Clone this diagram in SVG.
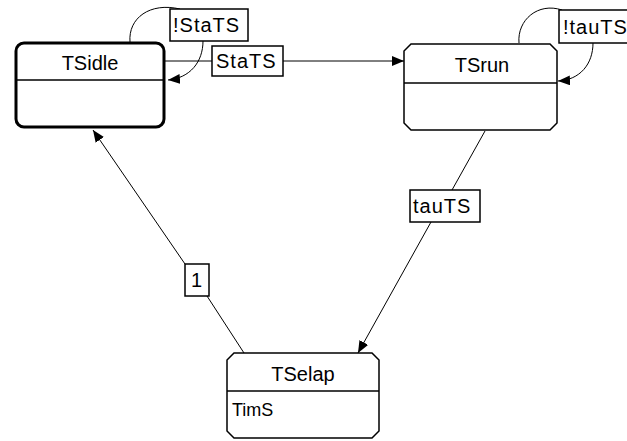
<svg xmlns="http://www.w3.org/2000/svg" width="627" height="441" viewBox="0 0 627 441">
<style>
  text { font-family: "Liberation Sans", Arial, sans-serif; fill: #000; }
  .title { font-size: 20px; text-anchor: middle; }
  .attr { font-size: 18px; }
  .lbl { font-size: 20px; letter-spacing: 1px; }
  .node { fill: #fff; stroke: #000; stroke-width: 1.5; }
  .div { stroke: #000; stroke-width: 1.5; }
  .edge { fill: none; stroke: #000; stroke-width: 1; }
  .lblbox { fill: #fff; stroke: #000; stroke-width: 1.5; }
</style>
<defs>
  <marker id="arr" markerUnits="userSpaceOnUse" markerWidth="13" markerHeight="11" refX="12" refY="5" orient="auto">
    <path d="M0,0 L12,5 L0,10 Z" fill="#000"/>
  </marker>
</defs>
<rect width="627" height="441" fill="#fff"/>

<g id="connectors">
  <path class="edge" d="M165,61 H212"/>
  <path class="edge" d="M283,61 H404" marker-end="url(#arr)"/>
  <path class="edge" d="M130,42 C128,18 150,2 180,9"/>
  <path class="edge" d="M203,41 C203,62 190,78 168,80" marker-end="url(#arr)"/>
  <path class="edge" d="M519,43 C517,20 538,2 562,10"/>
  <path class="edge" d="M593,43 C593,64 580,80 558,81" marker-end="url(#arr)"/>
  <path class="edge" d="M485,131 L452,190"/>
  <path class="edge" d="M431,222 L358,353" marker-end="url(#arr)"/>
  <path class="edge" d="M244,353 L207,296"/>
  <path class="edge" d="M185,264 L93,130" marker-end="url(#arr)"/>

  <g id="label-StaTS">
    <rect class="lblbox" x="212" y="46" width="71" height="30"/>
    <text class="lbl" x="216" y="68">StaTS</text>
  </g>
  <g id="label-notStaTS">
    <rect class="lblbox" x="170" y="9" width="78" height="32"/>
    <text class="lbl" x="173" y="32">!StaTS</text>
  </g>
  <g id="label-nottauTS">
    <rect class="lblbox" x="559" y="10" width="75" height="33"/>
    <text class="lbl" x="563" y="34">!tauTS</text>
  </g>
  <g id="label-tauTS">
    <rect class="lblbox" x="410" y="190" width="70" height="32"/>
    <text class="lbl" x="413" y="213">tauTS</text>
  </g>
  <g id="label-1">
    <rect class="lblbox" x="185" y="264" width="24" height="32"/>
    <text class="lbl" x="191" y="287">1</text>
  </g>
</g>

<g id="TSidle">
  <rect x="16" y="43" width="148" height="84" rx="8" fill="#fff" stroke="#000" stroke-width="3"/>
  <line class="div" x1="16" y1="80" x2="164" y2="80"/>
  <text class="title" x="90" y="70">TSidle</text>
</g>

<g id="TSrun">
  <path class="node" d="M411,44 H550 L557,51 V123 L550,130 H411 L404,123 V51 Z"/>
  <line class="div" x1="404" y1="83" x2="557" y2="83"/>
  <text class="title" x="482" y="72">TSrun</text>
</g>

<g id="TSelap">
  <path class="node" d="M234,353 H372 L379,360 V431 L372,438 H234 L227,431 V360 Z"/>
  <line class="div" x1="227" y1="391" x2="379" y2="391"/>
  <text class="title" x="303" y="381">TSelap</text>
  <text class="attr" x="232" y="416">TimS</text>
</g>
</svg>
